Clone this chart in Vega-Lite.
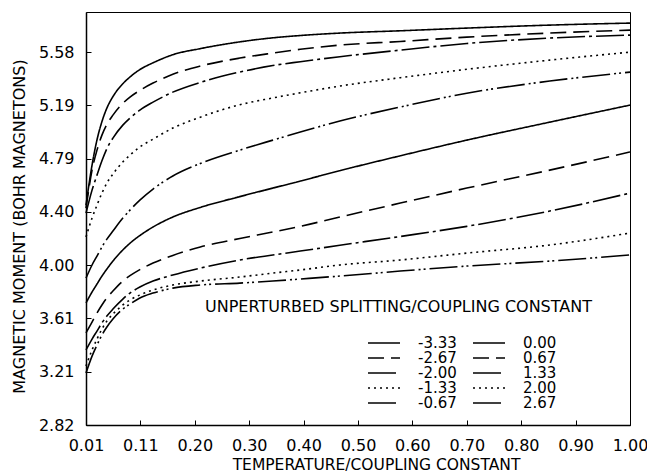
{
  "$schema": "https://vega.github.io/schema/vega-lite/v6.json",
  "width": 544,
  "height": 413,
  "autosize": "none",
  "padding": {"left": 86, "top": 12, "right": 17, "bottom": 48},
  "background": "white",
  "config": {
    "view": {"stroke": "black", "strokeWidth": 1},
    "font": "DejaVu Sans",
    "axis": {"domainColor": "black", "domainWidth": 1.5, "tickColor": "black", "tickWidth": 1, "labelColor": "black", "titleColor": "black", "grid": false, "labelFont": "DejaVu Sans", "titleFont": "DejaVu Sans", "titleFontWeight": "normal"},
    "legend": {"labelFontSize": 15, "labelColor": "black", "labelOffset": 17, "symbolType": "stroke", "symbolSize": 1024, "symbolStrokeWidth": 1.5, "symbolStrokeColor": "black", "rowPadding": -1.5, "clipHeight": 14, "padding": 0, "titleFontSize": 16, "titleFontWeight": "normal", "titleColor": "black", "titleLimit": 600}
  },
  "data": {"values": [
    {"s":"-3.33","x":0.01,"y":4.447},{"s":"-3.33","x":0.021,"y":4.743},{"s":"-3.33","x":0.03,"y":4.93},{"s":"-3.33","x":0.039,"y":5.065},{"s":"-3.33","x":0.048,"y":5.165},{"s":"-3.33","x":0.059,"y":5.25},{"s":"-3.33","x":0.077,"y":5.345},{"s":"-3.33","x":0.09,"y":5.395},{"s":"-3.33","x":0.108,"y":5.45},{"s":"-3.33","x":0.132,"y":5.5},{"s":"-3.33","x":0.168,"y":5.56},{"s":"-3.33","x":0.218,"y":5.605},{"s":"-3.33","x":0.29,"y":5.655},{"s":"-3.33","x":0.35,"y":5.685},{"s":"-3.33","x":0.4,"y":5.702},{"s":"-3.33","x":0.472,"y":5.72},{"s":"-3.33","x":0.582,"y":5.737},{"s":"-3.33","x":0.703,"y":5.757},{"s":"-3.33","x":0.854,"y":5.779},{"s":"-3.33","x":1.0,"y":5.794},
    {"s":"-2.67","x":0.01,"y":4.425},{"s":"-2.67","x":0.021,"y":4.706},{"s":"-2.67","x":0.03,"y":4.854},{"s":"-2.67","x":0.039,"y":4.965},{"s":"-2.67","x":0.048,"y":5.045},{"s":"-2.67","x":0.059,"y":5.113},{"s":"-2.67","x":0.077,"y":5.2},{"s":"-2.67","x":0.09,"y":5.246},{"s":"-2.67","x":0.108,"y":5.296},{"s":"-2.67","x":0.132,"y":5.35},{"s":"-2.67","x":0.168,"y":5.415},{"s":"-2.67","x":0.218,"y":5.476},{"s":"-2.67","x":0.29,"y":5.535},{"s":"-2.67","x":0.35,"y":5.572},{"s":"-2.67","x":0.4,"y":5.6},{"s":"-2.67","x":0.472,"y":5.631},{"s":"-2.67","x":0.582,"y":5.658},{"s":"-2.67","x":0.703,"y":5.69},{"s":"-2.67","x":0.854,"y":5.72},{"s":"-2.67","x":1.0,"y":5.742},
    {"s":"-2.00","x":0.01,"y":4.388},{"s":"-2.00","x":0.021,"y":4.558},{"s":"-2.00","x":0.03,"y":4.669},{"s":"-2.00","x":0.039,"y":4.775},{"s":"-2.00","x":0.048,"y":4.865},{"s":"-2.00","x":0.059,"y":4.943},{"s":"-2.00","x":0.077,"y":5.039},{"s":"-2.00","x":0.09,"y":5.091},{"s":"-2.00","x":0.108,"y":5.15},{"s":"-2.00","x":0.132,"y":5.209},{"s":"-2.00","x":0.168,"y":5.283},{"s":"-2.00","x":0.218,"y":5.355},{"s":"-2.00","x":0.29,"y":5.432},{"s":"-2.00","x":0.35,"y":5.48},{"s":"-2.00","x":0.4,"y":5.508},{"s":"-2.00","x":0.472,"y":5.545},{"s":"-2.00","x":0.582,"y":5.594},{"s":"-2.00","x":0.703,"y":5.643},{"s":"-2.00","x":0.854,"y":5.683},{"s":"-2.00","x":1.0,"y":5.705},
    {"s":"-1.33","x":0.01,"y":4.211},{"s":"-1.33","x":0.021,"y":4.351},{"s":"-1.33","x":0.03,"y":4.447},{"s":"-1.33","x":0.039,"y":4.536},{"s":"-1.33","x":0.048,"y":4.61},{"s":"-1.33","x":0.059,"y":4.677},{"s":"-1.33","x":0.077,"y":4.766},{"s":"-1.33","x":0.09,"y":4.817},{"s":"-1.33","x":0.108,"y":4.877},{"s":"-1.33","x":0.132,"y":4.935},{"s":"-1.33","x":0.168,"y":5.017},{"s":"-1.33","x":0.218,"y":5.098},{"s":"-1.33","x":0.29,"y":5.19},{"s":"-1.33","x":0.35,"y":5.24},{"s":"-1.33","x":0.4,"y":5.278},{"s":"-1.33","x":0.472,"y":5.328},{"s":"-1.33","x":0.582,"y":5.39},{"s":"-1.33","x":0.703,"y":5.452},{"s":"-1.33","x":0.854,"y":5.52},{"s":"-1.33","x":1.0,"y":5.579},
    {"s":"-0.67","x":0.01,"y":3.907},{"s":"-0.67","x":0.021,"y":4.004},{"s":"-0.67","x":0.03,"y":4.07},{"s":"-0.67","x":0.039,"y":4.137},{"s":"-0.67","x":0.048,"y":4.195},{"s":"-0.67","x":0.059,"y":4.255},{"s":"-0.67","x":0.077,"y":4.351},{"s":"-0.67","x":0.09,"y":4.41},{"s":"-0.67","x":0.108,"y":4.484},{"s":"-0.67","x":0.132,"y":4.566},{"s":"-0.67","x":0.168,"y":4.662},{"s":"-0.67","x":0.218,"y":4.755},{"s":"-0.67","x":0.29,"y":4.854},{"s":"-0.67","x":0.35,"y":4.928},{"s":"-0.67","x":0.4,"y":4.988},{"s":"-0.67","x":0.472,"y":5.069},{"s":"-0.67","x":0.582,"y":5.173},{"s":"-0.67","x":0.703,"y":5.275},{"s":"-0.67","x":0.854,"y":5.365},{"s":"-0.67","x":1.0,"y":5.431},
    {"s":"0.00","x":0.01,"y":3.723},{"s":"0.00","x":0.021,"y":3.804},{"s":"0.00","x":0.03,"y":3.863},{"s":"0.00","x":0.039,"y":3.922},{"s":"0.00","x":0.048,"y":3.974},{"s":"0.00","x":0.059,"y":4.033},{"s":"0.00","x":0.077,"y":4.115},{"s":"0.00","x":0.09,"y":4.165},{"s":"0.00","x":0.108,"y":4.222},{"s":"0.00","x":0.132,"y":4.285},{"s":"0.00","x":0.168,"y":4.359},{"s":"0.00","x":0.218,"y":4.43},{"s":"0.00","x":0.29,"y":4.51},{"s":"0.00","x":0.35,"y":4.573},{"s":"0.00","x":0.4,"y":4.625},{"s":"0.00","x":0.472,"y":4.702},{"s":"0.00","x":0.582,"y":4.812},{"s":"0.00","x":0.703,"y":4.928},{"s":"0.00","x":0.854,"y":5.061},{"s":"0.00","x":1.0,"y":5.187},
    {"s":"0.67","x":0.01,"y":3.501},{"s":"0.67","x":0.021,"y":3.582},{"s":"0.67","x":0.03,"y":3.649},{"s":"0.67","x":0.039,"y":3.708},{"s":"0.67","x":0.048,"y":3.76},{"s":"0.67","x":0.059,"y":3.811},{"s":"0.67","x":0.077,"y":3.885},{"s":"0.67","x":0.09,"y":3.925},{"s":"0.67","x":0.108,"y":3.97},{"s":"0.67","x":0.132,"y":4.018},{"s":"0.67","x":0.168,"y":4.075},{"s":"0.67","x":0.218,"y":4.137},{"s":"0.67","x":0.29,"y":4.2},{"s":"0.67","x":0.35,"y":4.248},{"s":"0.67","x":0.4,"y":4.29},{"s":"0.67","x":0.472,"y":4.359},{"s":"0.67","x":0.582,"y":4.462},{"s":"0.67","x":0.703,"y":4.573},{"s":"0.67","x":0.854,"y":4.706},{"s":"0.67","x":1.0,"y":4.84},
    {"s":"1.33","x":0.01,"y":3.375},{"s":"1.33","x":0.021,"y":3.456},{"s":"1.33","x":0.03,"y":3.515},{"s":"1.33","x":0.039,"y":3.575},{"s":"1.33","x":0.048,"y":3.626},{"s":"1.33","x":0.059,"y":3.678},{"s":"1.33","x":0.077,"y":3.752},{"s":"1.33","x":0.09,"y":3.796},{"s":"1.33","x":0.108,"y":3.841},{"s":"1.33","x":0.132,"y":3.885},{"s":"1.33","x":0.168,"y":3.93},{"s":"1.33","x":0.218,"y":3.981},{"s":"1.33","x":0.29,"y":4.041},{"s":"1.33","x":0.35,"y":4.078},{"s":"1.33","x":0.4,"y":4.107},{"s":"1.33","x":0.472,"y":4.15},{"s":"1.33","x":0.582,"y":4.215},{"s":"1.33","x":0.703,"y":4.29},{"s":"1.33","x":0.854,"y":4.403},{"s":"1.33","x":1.0,"y":4.536},
    {"s":"2.00","x":0.01,"y":3.256},{"s":"2.00","x":0.021,"y":3.375},{"s":"2.00","x":0.03,"y":3.456},{"s":"2.00","x":0.039,"y":3.53},{"s":"2.00","x":0.048,"y":3.589},{"s":"2.00","x":0.059,"y":3.641},{"s":"2.00","x":0.077,"y":3.708},{"s":"2.00","x":0.09,"y":3.745},{"s":"2.00","x":0.108,"y":3.782},{"s":"2.00","x":0.132,"y":3.819},{"s":"2.00","x":0.168,"y":3.856},{"s":"2.00","x":0.218,"y":3.885},{"s":"2.00","x":0.29,"y":3.915},{"s":"2.00","x":0.35,"y":3.944},{"s":"2.00","x":0.4,"y":3.967},{"s":"2.00","x":0.472,"y":4.004},{"s":"2.00","x":0.582,"y":4.041},{"s":"2.00","x":0.703,"y":4.092},{"s":"2.00","x":0.854,"y":4.152},{"s":"2.00","x":1.0,"y":4.24},
    {"s":"2.67","x":0.01,"y":3.205},{"s":"2.67","x":0.021,"y":3.33},{"s":"2.67","x":0.03,"y":3.412},{"s":"2.67","x":0.039,"y":3.486},{"s":"2.67","x":0.048,"y":3.545},{"s":"2.67","x":0.059,"y":3.604},{"s":"2.67","x":0.077,"y":3.678},{"s":"2.67","x":0.09,"y":3.715},{"s":"2.67","x":0.108,"y":3.76},{"s":"2.67","x":0.132,"y":3.796},{"s":"2.67","x":0.168,"y":3.833},{"s":"2.67","x":0.218,"y":3.856},{"s":"2.67","x":0.29,"y":3.87},{"s":"2.67","x":0.35,"y":3.885},{"s":"2.67","x":0.4,"y":3.9},{"s":"2.67","x":0.472,"y":3.922},{"s":"2.67","x":0.582,"y":3.959},{"s":"2.67","x":0.703,"y":3.996},{"s":"2.67","x":0.854,"y":4.033},{"s":"2.67","x":1.0,"y":4.078}
  ]},
  "encoding": {
    "x": {
      "field": "x", "type": "quantitative",
      "scale": {"domain": [0.01, 1.0], "nice": false, "zero": false},
      "axis": {
        "title": "TEMPERATURE/COUPLING CONSTANT",
        "values": [0.01, 0.109, 0.208, 0.307, 0.406, 0.505, 0.604, 0.703, 0.802, 0.901, 1.0],
        "labelExpr": "datum.value < 0.05 ? '0.01' : datum.value < 0.15 ? '0.11' : format(round(datum.value*10)/10, '.2f')",
        "labelFontSize": 16, "labelPadding": 17, "tickSize": -5, "labelFlush": false,
        "titleFontSize": 15.5, "titleX": 290, "titleY": 44, "titleBaseline": "alphabetic", "titleAnchor": "middle", "titleAlign": "center"
      }
    },
    "y": {
      "field": "y", "type": "quantitative",
      "scale": {"domain": [2.82, 5.876], "nice": false, "zero": false},
      "axis": {
        "title": "MAGNETIC MOMENT (BOHR MAGNETONS)",
        "values": [2.82, 3.21429, 3.60857, 4.00286, 4.39714, 4.79143, 5.18571, 5.58],
        "format": ".2f",
        "labelFontSize": 16, "labelPadding": 17, "tickSize": -5, "labelFlush": false,
        "titleFontSize": 16, "titleX": -62, "titleY": 214, "titleAngle": -90, "titleBaseline": "alphabetic", "titleAlign": "center", "titleAnchor": "middle"
      }
    }
  },
  "layer": [
    {
      "transform": [{"filter": {"field": "s", "oneOf": ["-3.33", "-2.67", "-2.00", "-1.33", "-0.67"]}}],
      "mark": {"type": "line", "stroke": "black", "strokeWidth": 1.6, "interpolate": "monotone"},
      "encoding": {
        "strokeDash": {
          "field": "s", "type": "nominal",
          "scale": {
            "domain": ["-3.33", "-2.67", "-2.00", "-1.33", "-0.67"],
            "range": [[1, 0], [16, 7], [28, 4, 3, 4], [2, 4], [28, 4, 2, 3, 2, 4]]
          },
          "legend": {
            "orient": "none", "legendX": 119, "legendY": 287, "direction": "vertical",
            "title": "UNPERTURBED SPLITTING/COUPLING CONSTANT", "titlePadding": 21,
            "symbolOffset": 162
          }
        }
      }
    },
    {
      "transform": [{"filter": {"field": "s", "oneOf": ["0.00", "0.67", "1.33", "2.00", "2.67"]}}],
      "mark": {"type": "line", "stroke": "black", "strokeWidth": 1.6, "interpolate": "monotone"},
      "encoding": {
        "strokeDash": {
          "field": "s", "type": "nominal",
          "scale": {
            "domain": ["0.00", "0.67", "1.33", "2.00", "2.67"],
            "range": [[1, 0], [16, 7], [28, 4, 3, 4], [2, 4], [28, 4, 2, 3, 2, 4]]
          },
          "legend": {
            "orient": "none", "legendX": 386, "legendY": 324, "direction": "vertical",
            "title": null
          }
        }
      }
    }
  ],
  "resolve": {"scale": {"strokeDash": "independent"}, "legend": {"strokeDash": "independent"}}
}
